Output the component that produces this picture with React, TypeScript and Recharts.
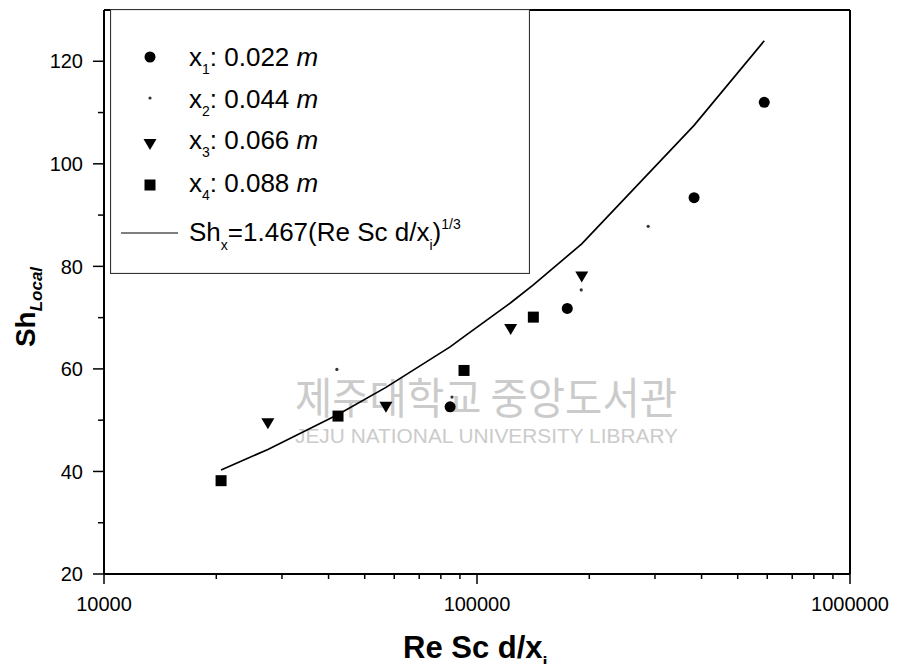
import { ComposedChart, Scatter, Line, XAxis, YAxis, ReferenceLine, Legend } from 'recharts'

const FONT = '"Liberation Sans", Arial, Helvetica, sans-serif'

// Re Sc d/x_i and local Sherwood numbers
const x1Re = [84700, 174600, 381900, 589000]
const x1Sh = [52.6, 71.8, 93.4, 112.0]
const x2Re = [42100, 85700, 190300, 287700]
const x2Sh = [59.9, 54.5, 75.4, 87.8]
const x3Re = [27500, 57000, 123100, 190900]
const x3Sh = [49.4, 52.6, 67.8, 78.0]
const x4Re = [20600, 42400, 92300, 141600]
const x4Sh = [38.2, 50.8, 59.7, 70.1]

// correlation curve Sh_x = 1.467 (Re Sc d/x_i)^(1/3), as drawn
const fitRe = [20600, 27500, 42400, 57000, 84700, 92300, 123100, 141600, 174600, 190900, 381900, 589000]
const fitSh = [40.3, 44.3, 51.1, 56.4, 64.3, 66.3, 72.9, 76.4, 82.0, 84.4, 107.5, 124.0]

const xMajor = [10000, 100000, 1000000]
const xMinor = [20000, 30000, 40000, 50000, 60000, 70000, 80000, 90000,
  200000, 300000, 400000, 500000, 600000, 700000, 800000, 900000]
const yMajor = [20, 40, 60, 80, 100, 120]
const yMinor = [30, 50, 70, 90, 110]

const legendDistances = ['0.022', '0.044', '0.066', '0.088']

const toPoints = (xs: number[], ys: number[]) => xs.map((x, i) => ({ x, y: ys[i] }))

const xTicks = [...xMajor, ...xMinor].sort((a, b) => a - b)
const yTicks = [...yMajor, ...yMinor].sort((a, b) => a - b)

const CircleDot = (p: any) => <circle cx={p.cx} cy={p.cy} r={5.5} fill="#000" />
const TinyDot = (p: any) => <circle cx={p.cx} cy={p.cy} r={1.6} fill="#333" />
const DownTriangle = (p: any) => (
  <path d={`M${p.cx - 6.5},${p.cy - 5} L${p.cx + 6.5},${p.cy - 5} L${p.cx},${p.cy + 6} Z`} fill="#000" />
)
const SquareDot = (p: any) => <rect x={p.cx - 5.5} y={p.cy - 5.5} width={11} height={11} fill="#000" />

const markers = [CircleDot, TinyDot, DownTriangle, SquareDot]

function XTick({ x, y, payload }: any) {
  const major = xMajor.includes(payload.value)
  return (
    <g>
      <line x1={x} y1={y} x2={x} y2={y + (major ? 10 : 5)} stroke="#000" strokeWidth={1.5} />
      {major && (
        <text x={x} y={y + 37} textAnchor="middle" fontSize={20} fontFamily={FONT} fill="#000">
          {payload.value}
        </text>
      )}
    </g>
  )
}

function YTick({ x, y, payload }: any) {
  const major = yMajor.includes(payload.value)
  return (
    <g>
      <line x1={x} y1={y} x2={x - (major ? 11 : 6)} y2={y} stroke="#000" strokeWidth={1.5} />
      {major && (
        <text x={x - 21} y={y} dy="0.36em" textAnchor="end" fontSize={20} fontFamily={FONT} fill="#000">
          {payload.value}
        </text>
      )}
    </g>
  )
}

function LegendBox() {
  const rows = [48, 89, 135, 176]
  const baselines = [57, 99, 140, 183]
  return (
    <svg width={420} height={265} style={{ display: 'block' }}>
      <rect x={0.5} y={0.5} width={419} height={264} fill="#fff" stroke="#333" strokeWidth={1.2} />
      {legendDistances.map((d, i) => {
        const Marker = markers[i]
        return (
          <g key={d}>
            <Marker cx={40} cy={rows[i]} />
            <text x={79} y={baselines[i]} fontSize={26} fontFamily={FONT} fill="#000">
              x<tspan fontSize={14} dy={8}>{i + 1}</tspan>
              <tspan dy={-8}>: {d} </tspan>
              <tspan fontStyle="italic">m</tspan>
            </text>
          </g>
        )
      })}
      <line x1={11} y1={224} x2={68} y2={224} stroke="#000" strokeWidth={1.2} />
      <text x={79} y={232} fontSize={26} fontFamily={FONT} fill="#000">
        Sh<tspan fontSize={14} dy={9}>x</tspan>
        <tspan dy={-9}>=1.467(Re Sc d/x</tspan>
        <tspan fontSize={14} dy={9}>i</tspan>
        <tspan dy={-9}>)</tspan>
        <tspan fontSize={14} dy={-12}>1/3</tspan>
      </text>
    </svg>
  )
}

export default function App() {
  return (
    <div style={{ width: 881, height: 656 }}>
      <ComposedChart width={881} height={664} margin={{ top: 2, right: 39, bottom: 97, left: 95 }}>
        <g fontFamily='"Noto Sans CJK KR", sans-serif' fill="#cbcbcb">
          <text x={287} y={406} fontSize={43} textLength={382} lengthAdjust="spacingAndGlyphs">
            제주대학교 중앙도서관
          </text>
          <text x={287} y={435} fontSize={21} fontFamily={FONT} textLength={383} lengthAdjust="spacingAndGlyphs">
            JEJU NATIONAL UNIVERSITY  LIBRARY
          </text>
        </g>
        <XAxis
          type="number"
          dataKey="x"
          scale="log"
          domain={[10000, 1000000]}
          allowDataOverflow
          ticks={xTicks}
          interval={0}
          tickSize={0}
          tickMargin={0}
          height={1}
          tickLine={false}
          tick={<XTick />}
          axisLine={{ stroke: '#000', strokeWidth: 2 }}
        />
        <YAxis
          type="number"
          dataKey="y"
          domain={[20, 130]}
          allowDataOverflow
          ticks={yTicks}
          interval={0}
          tickSize={0}
          tickMargin={0}
          width={1}
          tickLine={false}
          tick={<YTick />}
          axisLine={{ stroke: '#000', strokeWidth: 2 }}
        />
        <ReferenceLine y={130} stroke="#000" strokeWidth={2} />
        <ReferenceLine x={1000000} stroke="#000" strokeWidth={2} />
        <Line
          data={toPoints(fitRe, fitSh)}
          dataKey="y"
          type="linear"
          stroke="#000"
          strokeWidth={1.7}
          dot={false}
          activeDot={false}
          isAnimationActive={false}
        />
        <Scatter data={toPoints(x1Re, x1Sh)} dataKey="y" shape={CircleDot} isAnimationActive={false} />
        <Scatter data={toPoints(x2Re, x2Sh)} dataKey="y" shape={TinyDot} isAnimationActive={false} />
        <Scatter data={toPoints(x3Re, x3Sh)} dataKey="y" shape={DownTriangle} isAnimationActive={false} />
        <Scatter data={toPoints(x4Re, x4Sh)} dataKey="y" shape={SquareDot} isAnimationActive={false} />
        <Legend
          layout="vertical"
          align="center"
          verticalAlign="middle"
          content={() => <LegendBox />}
          wrapperStyle={{ left: 102, top: 1, width: 420, height: 265 }}
        />
        <text x={395} y={650} fontSize={31} fontWeight="bold" fontFamily={FONT} fill="#000">
          Re Sc d/x<tspan fontSize={18} dy={11}>i</tspan>
        </text>
        <text
          transform="translate(27,299) rotate(-90)"
          textAnchor="middle"
          fontWeight="bold"
          fontFamily={FONT}
          fill="#000"
        >
          <tspan fontSize={28}>Sh</tspan>
          <tspan fontSize={17} fontStyle="italic" dy={7}>Local</tspan>
        </text>
      </ComposedChart>
    </div>
  )
}
